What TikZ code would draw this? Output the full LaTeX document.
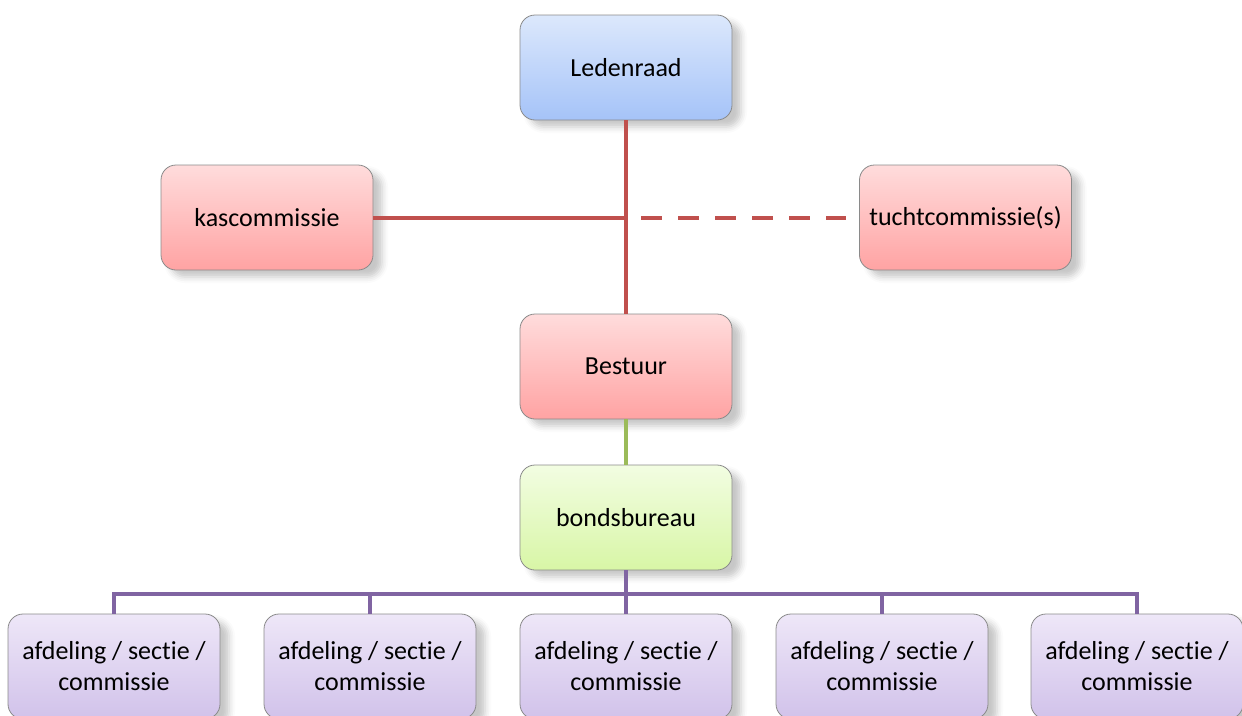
\documentclass[tikz,border=0pt]{standalone}
\usepackage{fontspec}
\setmainfont{Carlito}[RawFeature={-liga;-clig;-dlig;-calt}]
\usepackage{xcolor}
\usetikzlibrary{shadows.blur}

\definecolor{bluetop}{HTML}{DCE8FC}
\definecolor{bluebot}{HTML}{A5C3F8}
\definecolor{redtop}{HTML}{FFDCDC}
\definecolor{redbot}{HTML}{FFA3A3}
\definecolor{greentop}{HTML}{F2FDE2}
\definecolor{greenbot}{HTML}{D8F6A6}
\definecolor{purpletop}{HTML}{EEE7F8}
\definecolor{purplebot}{HTML}{D1C2EA}
\definecolor{redline}{HTML}{C0504D}
\definecolor{greenline}{HTML}{9BBB59}
\definecolor{purpleline}{HTML}{8064A2}
\definecolor{boxborder}{HTML}{8A8A8A}

\begin{document}
\begin{tikzpicture}[x=1pt, y=1pt,
    box/.style={draw=boxborder, line width=0.8pt, rounded corners=15pt,
        minimum width=212pt, minimum height=105pt, align=center,
        font=\fontsize{26}{31}\selectfont,
        blur shadow={shadow xshift=9pt, shadow yshift=-7pt,
            shadow blur radius=6pt, shadow opacity=22}},
    bluebox/.style={box, top color=bluetop, bottom color=bluebot},
    redbox/.style={box, top color=redtop, bottom color=redbot},
    greenbox/.style={box, top color=greentop, bottom color=greenbot},
    purplebox/.style={box, top color=purpletop, bottom color=purplebot},
    link/.style={line width=4pt}
]
    \useasboundingbox (0, 0) rectangle (1242, -715);
    \node[bluebox] (leden) at (626, -67.5) {Ledenraad};
    \node[redbox] (kas) at (267, -217.5) {kascommissie};
    \node[redbox] (tucht) at (965.5, -217.5) {tuchtcommissie(s)};
    \node[redbox] (bestuur) at (626, -366.5) {Bestuur};
    \node[greenbox] (bond) at (626, -517.5) {bondsbureau};
    \foreach \i/\x in {1/114, 2/370, 3/626, 4/882, 5/1137}
        \node[purplebox] (afd\i) at (\x, -666.5) {afdeling / sectie /\\commissie};
    \coordinate (knot) at (626, -217.5);
    \coordinate (bus) at (626, -594);
    % lines between the boxes
    \draw[link, redline]
        (leden.south) edge (bestuur.north)
        (kas.east) edge (knot)
        (knot) edge[dash pattern=on 21pt off 16pt, shorten <=15pt, shorten >=13pt] (tucht.west);
    \draw[link, greenline] (bestuur.south) -- (bond.north);
    \draw[link, purpleline] (bond.south) -- (bus);
    \foreach \i in {1,...,5}
        \draw[link, purpleline] (bus) -| (afd\i.north);
\end{tikzpicture}
\end{document}
